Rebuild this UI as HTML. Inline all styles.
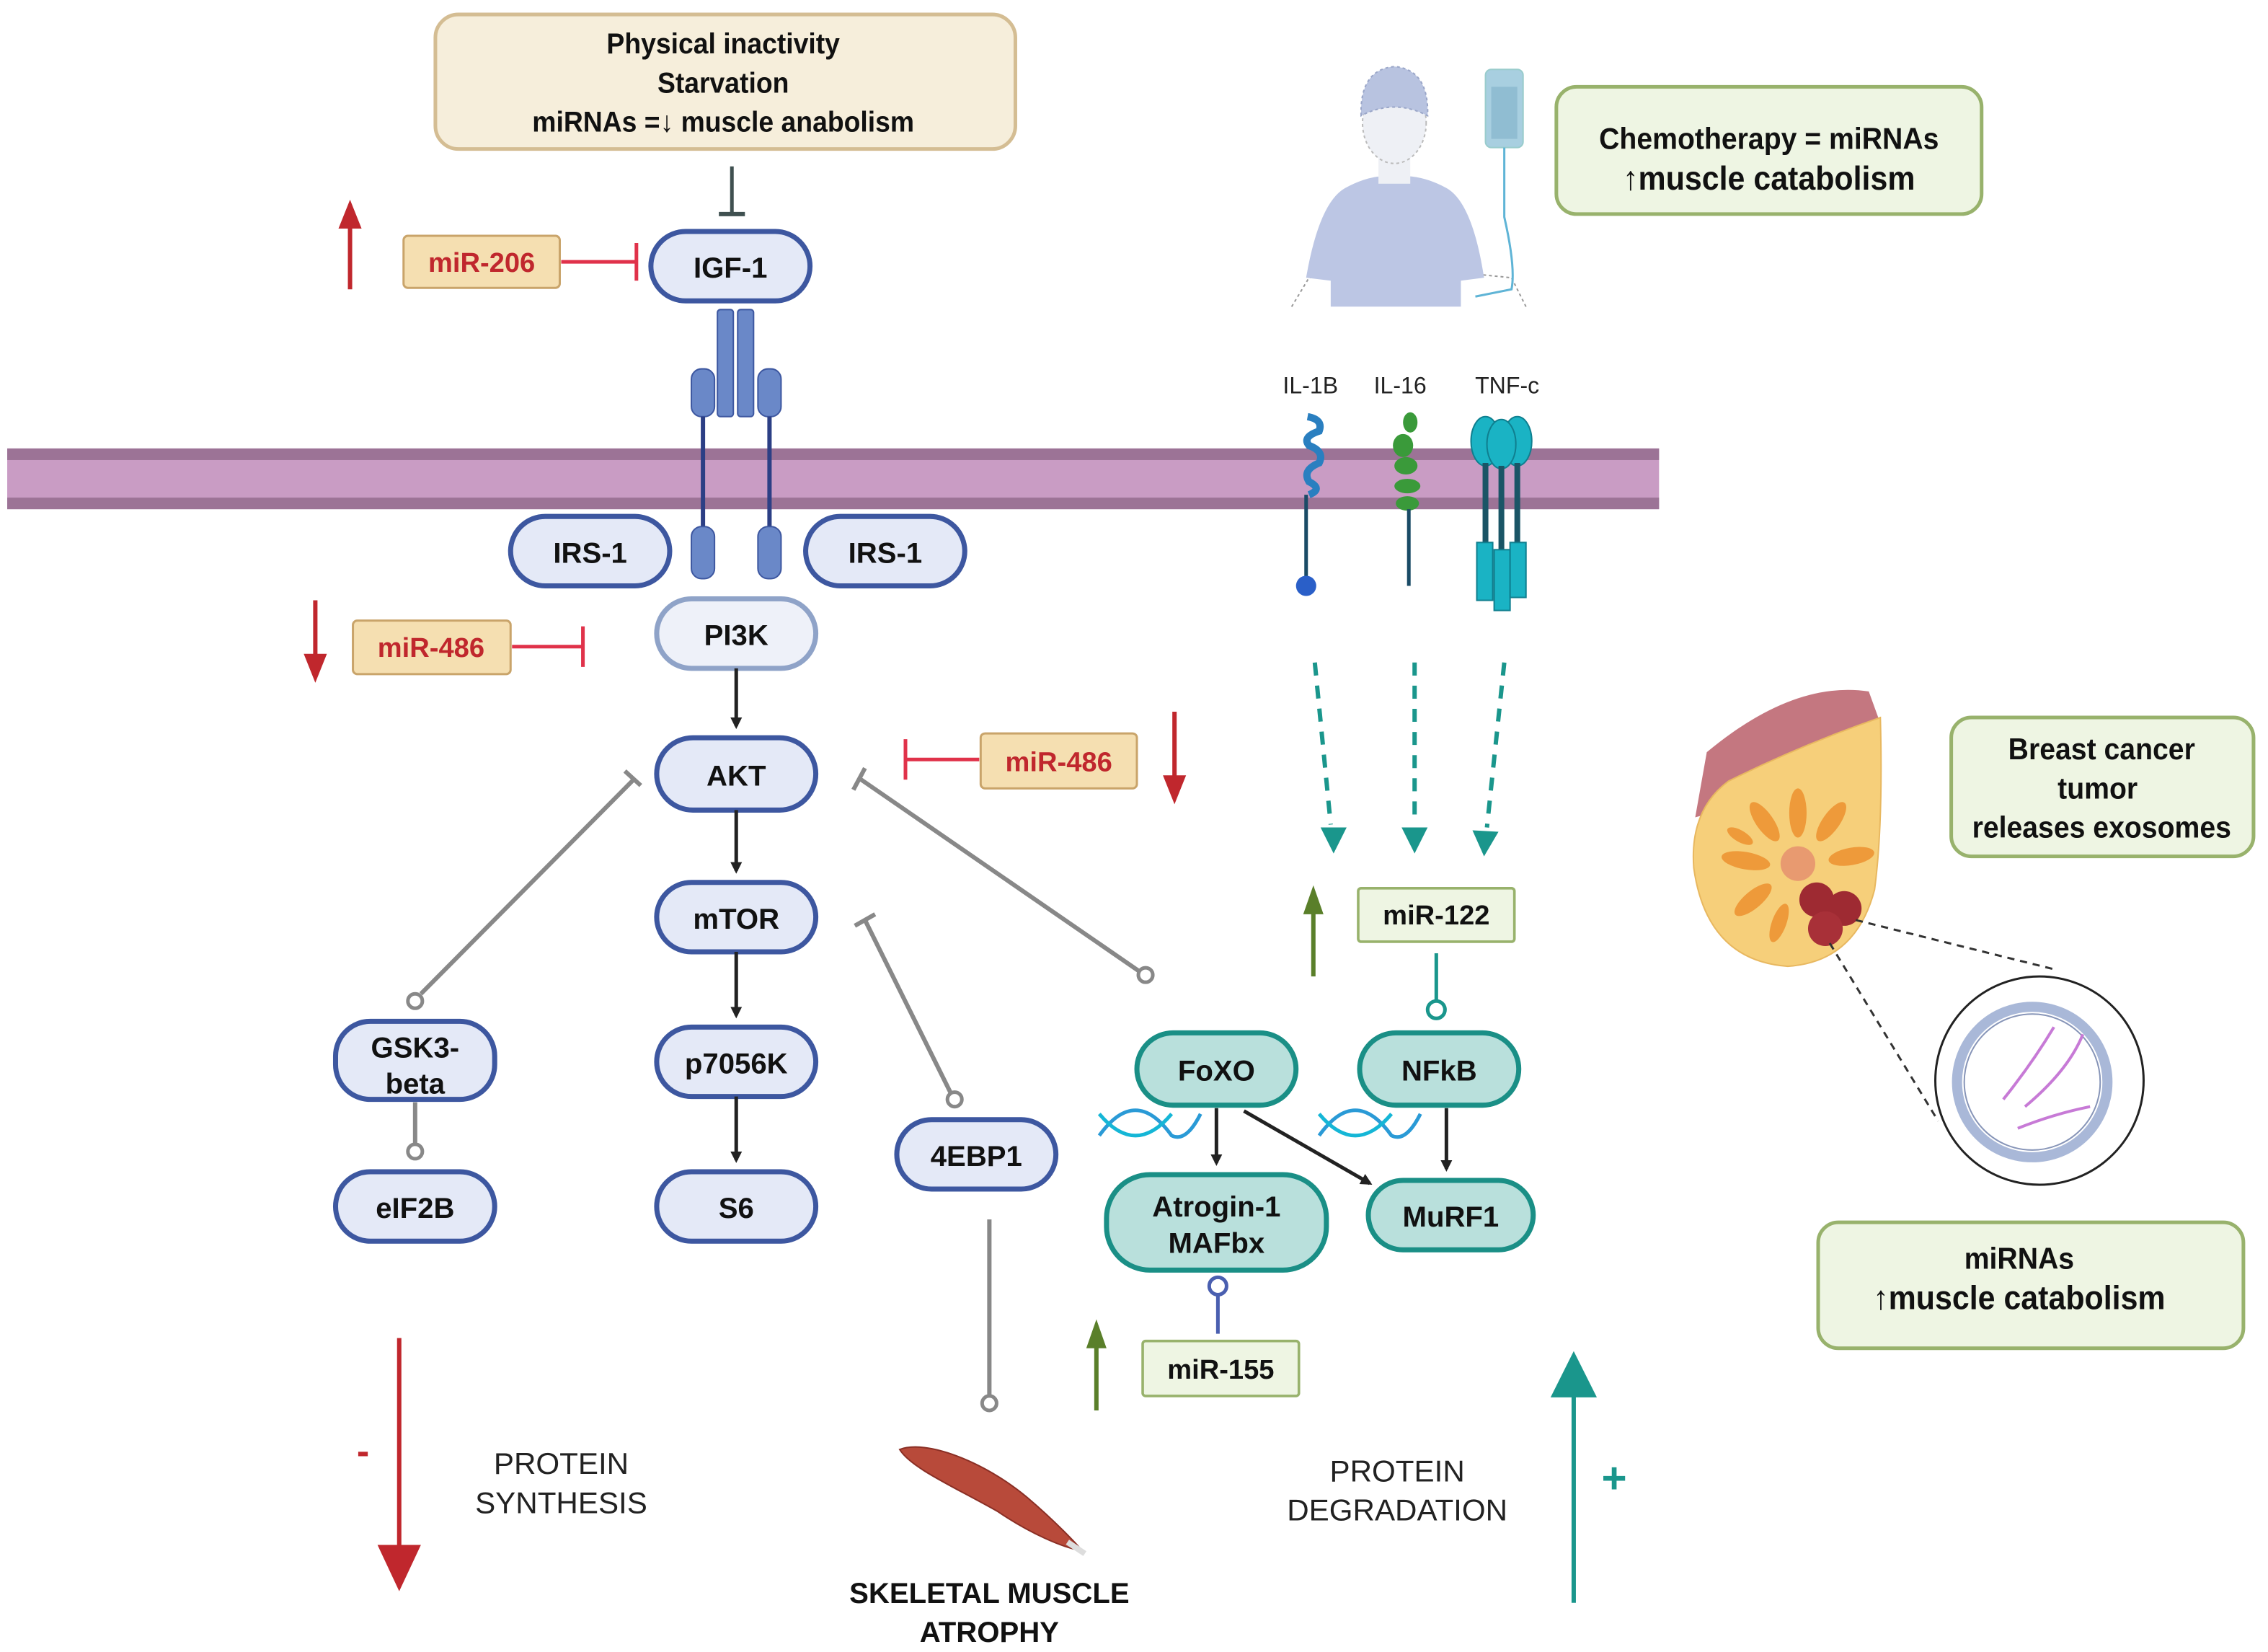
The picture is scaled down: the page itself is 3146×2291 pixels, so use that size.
<!DOCTYPE html>
<html><head><meta charset="utf-8"><style>
html,body{margin:0;padding:0;background:#fff;}
svg{display:block;}
text{font-family:"Liberation Sans",sans-serif;}
.n{font-weight:bold;font-size:20px;fill:#111;text-anchor:middle;}
.bp{fill:#e4e9f7;stroke:#3d57a0;stroke-width:3.5;}
.tp{fill:#b9e0dc;stroke:#1a8f86;stroke-width:3.5;}
.mr{font-weight:bold;font-size:19px;fill:#c0272d;text-anchor:middle;}
.mg{font-weight:bold;font-size:19px;fill:#111;text-anchor:middle;}
.gb{fill:#eef5e3;stroke:#98b26c;stroke-width:2.5;}
.yb{fill:#f5dfb1;stroke:#c9a46a;stroke-width:1.5;}
.gl{stroke:#888;stroke-width:3;fill:none;}
</style></head><body>
<svg width="3146" height="2291" viewBox="0 0 1568 1142" preserveAspectRatio="none" xmlns="http://www.w3.org/2000/svg">
<defs>
<marker id="ab" markerWidth="8" markerHeight="8" refX="6" refY="4" orient="auto" markerUnits="userSpaceOnUse"><path d="M0,0 L8,4 L0,8z" fill="#222"/></marker>
</defs>
<!-- membrane -->
<rect x="5" y="310" width="1142" height="42" fill="#c99cc4"/>
<rect x="5" y="310" width="1142" height="8" fill="#9c7396"/>
<rect x="5" y="344" width="1142" height="8" fill="#9c7396"/>

<!-- top box -->
<rect x="301" y="10" width="401" height="93" rx="16" fill="#f6eedb" stroke="#d4bd93" stroke-width="2.5"/>
<g transform="translate(500 0) scale(0.93 1) translate(-500 0)">
<text class="n" x="500" y="37">Physical inactivity</text>
<text class="n" x="500" y="64">Starvation</text>
<text class="n" x="500" y="91">miRNAs =↓ muscle anabolism</text>
</g>
<line x1="506" y1="115" x2="506" y2="147" stroke="#3f5050" stroke-width="2.5"/>
<line x1="497" y1="148" x2="515" y2="148" stroke="#3f5050" stroke-width="3"/>

<!-- miR-206 -->
<line x1="242" y1="200" x2="242" y2="150" stroke="#c0272d" stroke-width="3"/>
<path d="M234,158 L242,138 L250,158z" fill="#c0272d"/>
<rect class="yb" x="279" y="163" width="108" height="36" rx="3"/>
<text class="mr" x="333" y="188">miR-206</text>
<line x1="388" y1="181" x2="439" y2="181" stroke="#e0324a" stroke-width="2.5"/>
<line x1="440" y1="168" x2="440" y2="194" stroke="#e0324a" stroke-width="2.5"/>

<!-- IGF-1 -->
<rect class="bp" x="450" y="160" width="110" height="48" rx="24"/>
<text class="n" x="505" y="192">IGF-1</text>
<rect x="496" y="214" width="11" height="74" rx="2" fill="#6a88c8" stroke="#3d57a0"/>
<rect x="510" y="214" width="11" height="74" rx="2" fill="#6a88c8" stroke="#3d57a0"/>
<rect x="478" y="255" width="16" height="33" rx="7" fill="#6a88c8" stroke="#3d57a0"/>
<rect x="524" y="255" width="16" height="33" rx="7" fill="#6a88c8" stroke="#3d57a0"/>
<line x1="486" y1="288" x2="486" y2="368" stroke="#2c3f85" stroke-width="3"/>
<line x1="532" y1="288" x2="532" y2="368" stroke="#2c3f85" stroke-width="3"/>
<rect x="478" y="364" width="16" height="36" rx="7" fill="#6a88c8" stroke="#3d57a0"/>
<rect x="524" y="364" width="16" height="36" rx="7" fill="#6a88c8" stroke="#3d57a0"/>

<rect class="bp" x="353" y="357" width="110" height="48" rx="24"/>
<text class="n" x="408" y="389">IRS-1</text>
<rect class="bp" x="557" y="357" width="110" height="48" rx="24"/>
<text class="n" x="612" y="389">IRS-1</text>

<rect x="454" y="414" width="110" height="48" rx="24" fill="#eef1f9" stroke="#8fa3c8" stroke-width="3.5"/>
<text class="n" x="509" y="446">PI3K</text>
<line x1="218" y1="415" x2="218" y2="460" stroke="#c0272d" stroke-width="3"/>
<path d="M210,452 L218,472 L226,452z" fill="#c0272d"/>
<rect class="yb" x="244" y="429" width="109" height="37" rx="3"/>
<text class="mr" x="298" y="454">miR-486</text>
<line x1="354" y1="447" x2="402" y2="447" stroke="#e0324a" stroke-width="2.5"/>
<line x1="403" y1="433" x2="403" y2="461" stroke="#e0324a" stroke-width="2.5"/>

<line x1="509" y1="462" x2="509" y2="502" stroke="#222" stroke-width="2.5" marker-end="url(#ab)"/>
<rect class="bp" x="454" y="510" width="110" height="50" rx="25"/>
<text class="n" x="509" y="543">AKT</text>
<line x1="626" y1="525" x2="677" y2="525" stroke="#e0324a" stroke-width="2.5"/>
<line x1="626" y1="511" x2="626" y2="539" stroke="#e0324a" stroke-width="2.5"/>
<rect class="yb" x="678" y="507" width="108" height="38" rx="3"/>
<text class="mr" x="732" y="533">miR-486</text>
<line x1="812" y1="492" x2="812" y2="540" stroke="#c0272d" stroke-width="3"/>
<path d="M804,536 L812,556 L820,536z" fill="#c0272d"/>

<line x1="509" y1="560" x2="509" y2="602" stroke="#222" stroke-width="2.5" marker-end="url(#ab)"/>
<rect class="bp" x="454" y="610" width="110" height="48" rx="24"/>
<text class="n" x="509" y="642">mTOR</text>
<line x1="509" y1="658" x2="509" y2="702" stroke="#222" stroke-width="2.5" marker-end="url(#ab)"/>
<rect class="bp" x="454" y="710" width="110" height="48" rx="24"/>
<text class="n" x="509" y="742">p7056K</text>
<line x1="509" y1="758" x2="509" y2="802" stroke="#222" stroke-width="2.5" marker-end="url(#ab)"/>
<rect class="bp" x="454" y="810" width="110" height="48" rx="24"/>
<text class="n" x="509" y="842">S6</text>

<line class="gl" x1="439" y1="538" x2="291" y2="687"/>
<line class="gl" x1="432" y1="533" x2="443" y2="543"/>
<circle cx="287" cy="692" r="5" fill="#fff" stroke="#888" stroke-width="2.5"/>
<rect class="bp" x="232" y="706" width="110" height="54" rx="24"/>
<text class="n" x="287" y="731">GSK3-</text>
<text class="n" x="287" y="756">beta</text>
<line class="gl" x1="287" y1="762" x2="287" y2="791"/>
<circle cx="287" cy="796" r="5" fill="#fff" stroke="#888" stroke-width="2.5"/>
<rect class="bp" x="232" y="810" width="110" height="48" rx="24"/>
<text class="n" x="287" y="842">eIF2B</text>

<line class="gl" x1="594" y1="538" x2="787" y2="671"/>
<line class="gl" x1="590" y1="546" x2="598" y2="531"/>
<circle cx="792" cy="674" r="5" fill="#fff" stroke="#888" stroke-width="2.5"/>

<line class="gl" x1="598" y1="636" x2="657" y2="755"/>
<line class="gl" x1="591" y1="640" x2="605" y2="632"/>
<circle cx="660" cy="760" r="5" fill="#fff" stroke="#888" stroke-width="2.5"/>
<rect class="bp" x="620" y="774" width="110" height="48" rx="24"/>
<text class="n" x="675" y="806">4EBP1</text>
<line class="gl" x1="684" y1="843" x2="684" y2="965"/>
<circle cx="684" cy="970" r="5" fill="#fff" stroke="#888" stroke-width="2.5"/>

<path d="M622,1002 C640,995 680,1010 710,1035 C730,1052 745,1068 748,1072 C735,1070 712,1060 690,1045 C660,1028 630,1015 622,1002z" fill="#b84a3a" stroke="#8a2f25" stroke-width="1"/>
<path d="M738,1066 L750,1074" stroke="#ddd" stroke-width="4"/>
<text class="n" x="684" y="1108">SKELETAL MUSCLE</text>
<text class="n" x="684" y="1135">ATROPHY</text>

<line x1="276" y1="925" x2="276" y2="1075" stroke="#c0272d" stroke-width="3"/>
<path d="M261,1068 L276,1100 L291,1068z" fill="#c0272d"/>
<text x="251" y="1012" style="font-size:26px;fill:#c0272d;font-weight:bold" text-anchor="middle">-</text>
<text x="388" y="1019" style="font-size:21px;fill:#222" text-anchor="middle">PROTEIN</text>
<text x="388" y="1046" style="font-size:21px;fill:#222" text-anchor="middle">SYNTHESIS</text>

<line x1="1088" y1="1108" x2="1088" y2="960" stroke="#1a968c" stroke-width="3"/>
<path d="M1072,966 L1088,934 L1104,966z" fill="#1a968c"/>
<text x="1116" y="1032" style="font-size:30px;fill:#1a968c;font-weight:bold" text-anchor="middle">+</text>
<text x="966" y="1024" style="font-size:21px;fill:#222" text-anchor="middle">PROTEIN</text>
<text x="966" y="1051" style="font-size:21px;fill:#222" text-anchor="middle">DEGRADATION</text>

<!-- person -->
<g>
<path d="M893,212 L905,192 L925,190" stroke="#999" fill="none" stroke-dasharray="2 2"/>
<path d="M1055,212 L1045,192 L1025,190" stroke="#999" fill="none" stroke-dasharray="2 2"/>
<path d="M930,130 Q948,120 964,122 Q982,120 1000,130 Q1018,140 1026,192 L1010,194 L1010,212 L920,212 L920,194 L903,192 Q912,140 930,130z" fill="#bcc6e4"/>
<rect x="953" y="105" width="22" height="22" fill="#eef0f5"/>
<ellipse cx="964" cy="85" rx="22" ry="28" fill="#eef0f5" stroke="#bbb" stroke-dasharray="2 2"/>
<path d="M941,80 Q940,48 964,46 Q988,48 987,80 Q964,68 941,80z" fill="#b8c3e0" stroke="#9aa6c8" stroke-dasharray="2 2"/>
<rect x="1027" y="48" width="26" height="54" rx="4" fill="#a8cfe0" stroke="#9cc"/>
<rect x="1031" y="60" width="18" height="36" fill="#90bdd2"/>
<path d="M1040,102 L1040,150 Q1048,185 1045,200 L1020,205" stroke="#5fb4d6" stroke-width="1.5" fill="none"/>
</g>
<rect class="gb" x="1076" y="60" width="294" height="88" rx="14"/>
<g transform="translate(1223 0) scale(0.93 1) translate(-1223 0)">
<text class="mg" x="1223" y="103" style="font-size:21px">Chemotherapy = miRNAs</text>
<text class="mg" x="1223" y="131" style="font-size:23px">↑muscle catabolism</text>
</g>

<text x="906" y="272" style="font-size:16px;fill:#222" text-anchor="middle">IL-1B</text>
<text x="968" y="272" style="font-size:16px;fill:#222" text-anchor="middle">IL-16</text>
<text x="1042" y="272" style="font-size:16px;fill:#222" text-anchor="middle">TNF-c</text>
<path d="M904,288 Q915,290 912,298 Q900,302 905,308 Q916,312 912,320 Q900,325 905,333 Q915,338 905,342" stroke="#2a7fc0" stroke-width="5" fill="none"/>
<line x1="903" y1="342" x2="903" y2="400" stroke="#1a4b66" stroke-width="2.5"/>
<circle cx="903" cy="405" r="7" fill="#2a5fc8"/>
<ellipse cx="975" cy="292" rx="5" ry="7" fill="#3a9a3a"/>
<ellipse cx="970" cy="308" rx="7" ry="8" fill="#3a9a3a"/>
<ellipse cx="972" cy="322" rx="8" ry="6" fill="#3a9a3a"/>
<ellipse cx="973" cy="336" rx="9" ry="5" fill="#3a9a3a"/>
<ellipse cx="973" cy="348" rx="8" ry="5" fill="#3a9a3a"/>
<line x1="974" y1="352" x2="974" y2="405" stroke="#1a4b66" stroke-width="2.5"/>
<ellipse cx="1027" cy="305" rx="10" ry="17" fill="#1ab3c4" stroke="#0f7f8f"/>
<ellipse cx="1049" cy="305" rx="10" ry="17" fill="#1ab3c4" stroke="#0f7f8f"/>
<ellipse cx="1038" cy="307" rx="10" ry="17" fill="#1ab3c4" stroke="#0f7f8f"/>
<line x1="1027" y1="320" x2="1027" y2="380" stroke="#1a5566" stroke-width="4"/>
<line x1="1038" y1="322" x2="1038" y2="385" stroke="#1a5566" stroke-width="4"/>
<line x1="1049" y1="320" x2="1049" y2="380" stroke="#1a5566" stroke-width="4"/>
<rect x="1021" y="375" width="11" height="40" fill="#1ab3c4" stroke="#0f7f8f"/>
<rect x="1033" y="380" width="11" height="42" fill="#1ab3c4" stroke="#0f7f8f"/>
<rect x="1044" y="375" width="11" height="38" fill="#1ab3c4" stroke="#0f7f8f"/>

<line x1="909" y1="458" x2="920" y2="570" stroke="#1a968c" stroke-width="3" stroke-dasharray="9 7"/>
<path d="M913,572 L922,590 L931,572z" fill="#1a968c"/>
<line x1="978" y1="458" x2="978" y2="570" stroke="#1a968c" stroke-width="3" stroke-dasharray="9 7"/>
<path d="M969,572 L978,590 L987,572z" fill="#1a968c"/>
<line x1="1040" y1="458" x2="1028" y2="572" stroke="#1a968c" stroke-width="3" stroke-dasharray="9 7"/>
<path d="M1018,574 L1026,592 L1036,575z" fill="#1a968c"/>

<line x1="908" y1="675" x2="908" y2="628" stroke="#5a7f2a" stroke-width="3"/>
<path d="M901,632 L908,612 L915,632z" fill="#5a7f2a"/>
<rect class="gb" x="939" y="614" width="108" height="37" rx="2" style="stroke-width:1.8"/>
<text class="mg" x="993" y="639">miR-122</text>
<line x1="993" y1="659" x2="993" y2="692" stroke="#1a968c" stroke-width="2.5"/>
<circle cx="993" cy="698" r="6" fill="#fff" stroke="#1a968c" stroke-width="2.5"/>

<g stroke-width="2.5" fill="none">
<path d="M760,785 Q785,750 810,785 Q820,790 830,770" stroke="#2a9ad6"/>
<path d="M760,770 Q785,800 810,770" stroke="#15b6d6"/>
<path d="M912,785 Q937,750 962,785 Q972,790 982,770" stroke="#2a9ad6"/>
<path d="M912,770 Q937,800 962,770" stroke="#15b6d6"/>
</g>
<rect class="tp" x="786" y="714" width="110" height="50" rx="25"/>
<text class="n" x="841" y="747">FoXO</text>
<rect class="tp" x="940" y="714" width="110" height="50" rx="25"/>
<text class="n" x="995" y="747">NFkB</text>
<line x1="841" y1="766" x2="841" y2="804" stroke="#222" stroke-width="2.5" marker-end="url(#ab)"/>
<line x1="860" y1="768" x2="947" y2="818" stroke="#222" stroke-width="2.5" marker-end="url(#ab)"/>
<line x1="1000" y1="766" x2="1000" y2="808" stroke="#222" stroke-width="2.5" marker-end="url(#ab)"/>
<rect class="tp" x="765" y="812" width="152" height="66" rx="30"/>
<text class="n" x="841" y="841">Atrogin-1</text>
<text class="n" x="841" y="866">MAFbx</text>
<rect class="tp" x="946" y="816" width="114" height="48" rx="24"/>
<text class="n" x="1003" y="848">MuRF1</text>

<circle cx="842" cy="889" r="6" fill="#fff" stroke="#4a5fb0" stroke-width="2.5"/>
<line x1="842" y1="895" x2="842" y2="922" stroke="#4a5fb0" stroke-width="2.5"/>
<line x1="758" y1="975" x2="758" y2="928" stroke="#5a7f2a" stroke-width="3"/>
<path d="M751,932 L758,912 L765,932z" fill="#5a7f2a"/>
<rect class="gb" x="790" y="927" width="108" height="38" rx="2" style="stroke-width:1.8"/>
<text class="mg" x="844" y="953">miR-155</text>

<!-- breast -->
<path d="M1180,520 Q1240,470 1292,478 L1300,500 Q1250,505 1190,560 L1172,565z" fill="#b04a55" opacity="0.75"/>
<path d="M1300,496 Q1302,570 1296,615 Q1283,665 1236,668 Q1180,664 1171,600 Q1168,560 1195,540 Q1245,515 1300,496z" fill="#f6cf7a" stroke="#e8b860"/>
<g fill="#ee9a3a">
<ellipse cx="1243" cy="562" rx="6" ry="17"/>
<ellipse cx="1266" cy="568" rx="6" ry="16" transform="rotate(35 1266 568)"/>
<ellipse cx="1220" cy="568" rx="6" ry="16" transform="rotate(-35 1220 568)"/>
<ellipse cx="1207" cy="595" rx="6" ry="17" transform="rotate(-80 1207 595)"/>
<ellipse cx="1280" cy="592" rx="6" ry="16" transform="rotate(80 1280 592)"/>
<ellipse cx="1212" cy="622" rx="6" ry="16" transform="rotate(-130 1212 622)"/>
<ellipse cx="1230" cy="638" rx="5" ry="14" transform="rotate(-160 1230 638)"/>
<ellipse cx="1203" cy="578" rx="4" ry="10" transform="rotate(-60 1203 578)"/>
</g>
<circle cx="1243" cy="597" r="12" fill="#e89a70"/>
<circle cx="1256" cy="622" r="12" fill="#9e2a32"/>
<circle cx="1275" cy="628" r="12" fill="#9e2a32"/>
<circle cx="1262" cy="642" r="12" fill="#a83038"/>
<line x1="1283" y1="636" x2="1420" y2="670" stroke="#333" stroke-width="1.5" stroke-dasharray="5 4"/>
<line x1="1265" y1="652" x2="1340" y2="775" stroke="#333" stroke-width="1.5" stroke-dasharray="5 4"/>
<circle cx="1410" cy="747" r="72" fill="#fff" stroke="#222" stroke-width="1.5"/>
<circle cx="1405" cy="748" r="52" fill="none" stroke="#a9b8d8" stroke-width="7"/>
<circle cx="1405" cy="748" r="47" fill="none" stroke="#8795b8" stroke-width="1"/>
<path d="M1385,760 Q1405,735 1420,710" stroke="#c77ad6" stroke-width="2" fill="none"/>
<path d="M1400,765 Q1430,740 1440,715" stroke="#c77ad6" stroke-width="2" fill="none"/>
<path d="M1395,780 Q1420,770 1445,765" stroke="#c77ad6" stroke-width="2" fill="none"/>
<rect class="gb" x="1349" y="496" width="209" height="96" rx="14"/>
<g transform="translate(1453 0) scale(0.93 1) translate(-1453 0)">
<text class="mg" x="1453" y="525" style="font-size:21px">Breast cancer</text>
<text class="mg" x="1450" y="552" style="font-size:21px">tumor</text>
<text class="mg" x="1453" y="579" style="font-size:21px">releases exosomes</text>
</g>
<rect class="gb" x="1257" y="845" width="294" height="87" rx="14"/>
<g transform="translate(1396 0) scale(0.93 1) translate(-1396 0)">
<text class="mg" x="1396" y="877" style="font-size:21px">miRNAs</text>
<text class="mg" x="1396" y="905" style="font-size:23px">↑muscle catabolism</text>
</g>
</svg>
</body></html>
